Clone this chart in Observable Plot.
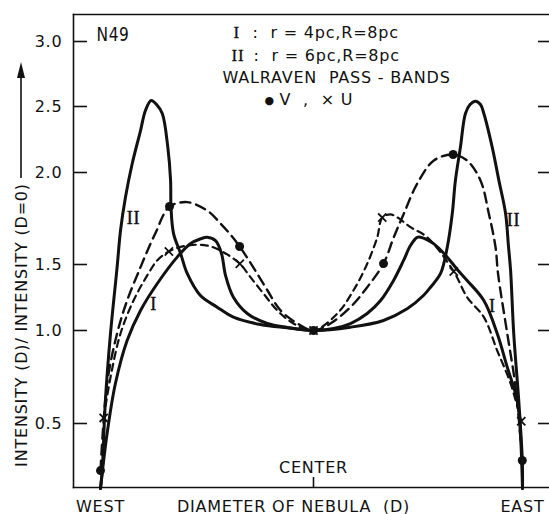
<!DOCTYPE html>
<html><head><meta charset="utf-8">
<script src="https://cdn.jsdelivr.net/npm/d3@7"></script>
<script src="https://cdn.jsdelivr.net/npm/@observablehq/plot@0.6"></script>
<style>
html,body{margin:0;padding:0;background:#fff;}
#chart svg{display:block;}
</style></head><body><div id="chart"></div>
<script>
// ---- data: [D (west=-1, centre=0, east=+1), intensity ratio] ----
const curveII = [[-1.0,0.15],[-0.992,0.247],[-0.977,0.624],[-0.953,0.984],[-0.922,1.48],[-0.906,1.685],[-0.883,1.864],[-0.851,2.068],[-0.812,2.318],[-0.789,2.47],[-0.762,2.546],[-0.737,2.515],[-0.710,2.447],[-0.684,2.192],[-0.671,1.957],[-0.669,1.81],[-0.657,1.668],[-0.624,1.56],[-0.593,1.432],[-0.531,1.265],[-0.452,1.177],[-0.376,1.101],[-0.249,1.045],[-0.123,1.02],[0,1.0],[0.177,1.025],[0.335,1.076],[0.448,1.164],[0.526,1.265],[0.560,1.328],[0.608,1.432],[0.640,1.594],[0.664,1.777],[0.679,1.957],[0.703,2.192],[0.727,2.447],[0.749,2.515],[0.775,2.541],[0.799,2.515],[0.815,2.447],[0.855,2.192],[0.887,1.957],[0.919,1.777],[0.933,1.598],[0.943,1.455],[0.958,0.984],[0.982,0.624],[0.999,0.301],[1.0,0.15]];
const curveI = [[-1.0,0.15],[-0.969,0.446],[-0.930,0.715],[-0.875,0.946],[-0.812,1.152],[-0.734,1.354],[-0.640,1.54],[-0.577,1.614],[-0.531,1.639],[-0.499,1.648],[-0.460,1.63],[-0.432,1.56],[-0.413,1.417],[-0.376,1.252],[-0.311,1.129],[-0.217,1.053],[-0.123,1.023],[0,1.0],[0.096,1.015],[0.177,1.053],[0.257,1.129],[0.321,1.227],[0.383,1.379],[0.431,1.522],[0.464,1.603],[0.496,1.647],[0.512,1.648],[0.576,1.612],[0.640,1.54],[0.688,1.462],[0.735,1.379],[0.815,1.227],[0.879,0.984],[0.927,0.803],[0.975,0.624],[0.990,0.446],[1.0,0.15]];
const bandV = [[-1.0,0.247],[-0.969,0.715],[-0.922,0.984],[-0.875,1.227],[-0.812,1.48],[-0.765,1.614],[-0.732,1.696],[-0.710,1.757],[-0.676,1.815],[-0.593,1.839],[-0.493,1.788],[-0.437,1.723],[-0.390,1.663],[-0.347,1.598],[-0.282,1.477],[-0.216,1.303],[-0.155,1.152],[-0.075,1.053],[0,1.0],[0.081,1.053],[0.177,1.177],[0.257,1.328],[0.335,1.505],[0.384,1.648],[0.432,1.776],[0.496,1.939],[0.576,2.091],[0.668,2.136],[0.735,2.091],[0.799,1.957],[0.839,1.776],[0.871,1.594],[0.883,1.43],[0.927,0.984],[0.967,0.695],[0.999,0.301]];
const bandU = [[-0.985,0.53],[-0.953,0.749],[-0.906,0.984],[-0.845,1.227],[-0.775,1.432],[-0.734,1.522],[-0.679,1.571],[-0.593,1.603],[-0.499,1.603],[-0.423,1.567],[-0.346,1.504],[-0.296,1.404],[-0.235,1.28],[-0.170,1.152],[-0.094,1.053],[0,1.0],[0.113,1.127],[0.191,1.303],[0.257,1.504],[0.305,1.648],[0.329,1.755],[0.368,1.772],[0.400,1.757],[0.464,1.703],[0.544,1.648],[0.671,1.447],[0.735,1.252],[0.815,1.101],[0.879,0.892],[0.943,0.715],[0.994,0.512]];
const dotsV = [[-1.0,0.247],[-0.676,1.815],[-0.347,1.598],[0,1.0],[0.335,1.505],[0.668,2.136],[0.999,0.301]];
const crossesU = [[-0.985,0.53],[-0.679,1.571],[-0.346,1.504],[0,1.0],[0.329,1.755],[0.671,1.447],[0.994,0.512]];
const curveLabels = [["II",-0.845,1.75],["I",-0.751,1.197],["II",0.957,1.739],["I",0.856,1.182]];
const yTicks = [0.5,1.0,1.5,2.0,2.5,3.0];
const xLabels = [["WEST",-1],["EAST",1]];
const legendModels = ["I","II"];
const legendParams = [":  r = 4pc,R=8pc",":  r = 6pc,R=8pc"];
const legendBands = ["WALRAVEN  PASS - BANDS","V  ,  \u00D7 U"];

// the printed axes are not evenly spaced: piecewise maps from value to distance on the page
const yWarp = d3.scaleLinear().domain([0.5, 1, 1.5, 2, 2.5, 3]).range([0, 93, 159, 251, 317, 382]);
const xWarp = d3.scaleLinear().domain([-1, 0, 1]).range([-213, 0, 209]);

const rows = a => a.map(([d, v]) => ({d, v}));
const sans = "'DejaVu Sans', sans-serif";
const serif = "'Liberation Serif', 'DejaVu Serif', serif";
const W = 549, H = 514, mL = 73, mT = 14, mB = 27;
const ann = (str, px, py, o = {}) => Plot.text([str], {text: d => d, frameAnchor: "top-left", dx: px - mL, dy: py - mT, lineAnchor: "bottom", textAnchor: "start", fontSize: 16, fill: "#111", ...o});

const chart = Plot.plot({
  width: W, height: H,
  marginLeft: mL, marginTop: mT, marginBottom: mB, marginRight: 0,
  x: {transform: xWarp, domain: [-240, 236], axis: null},
  y: {transform: yWarp, domain: [-64, 409], axis: null},
  style: {fontFamily: sans, background: "#fff", color: "#111", letterSpacing: "0.8px"},
  marks: [
    Plot.frame({anchor: "left", strokeWidth: 1.6}),
    Plot.frame({anchor: "top", strokeWidth: 1.6}),
    Plot.frame({anchor: "bottom", strokeWidth: 1.6}),
    Plot.tickY(yTicks, {y: d => d, insetRight: W - mL - 14, strokeWidth: 1.6}),
    Plot.tickY(yTicks, {y: d => d, insetLeft: W - mL - 11, strokeWidth: 1.6}),
    Plot.text(yTicks, {y: d => d, text: d => d.toFixed(1), frameAnchor: "left", dx: -11, textAnchor: "end", fontSize: 16, fill: "#111"}),
    Plot.tickX([0], {x: d => d, insetTop: H - mB - mT - 10, strokeWidth: 1.6}),
    Plot.text(["CENTER"], {x: () => 0, text: d => d, frameAnchor: "bottom", dy: -15, lineAnchor: "bottom", fontSize: 16, fill: "#111"}),
    Plot.text(xLabels, {x: d => d[1], text: d => d[0], frameAnchor: "bottom", dy: 24, lineAnchor: "bottom", fontSize: 16, fill: "#111"}),
    Plot.text(["DIAMETER OF NEBULA  (D)"], {text: d => d, frameAnchor: "bottom", dx: -18, dy: 24, lineAnchor: "bottom", fontSize: 16, fill: "#111", letterSpacing: "1.8px"}),
    Plot.line(rows(curveII), {x: "d", y: "v", curve: "catmull-rom", strokeWidth: 3, stroke: "#111"}),
    Plot.line(rows(curveI), {x: "d", y: "v", curve: "catmull-rom", strokeWidth: 3, stroke: "#111"}),
    Plot.line(rows(bandV), {x: "d", y: "v", curve: "catmull-rom", strokeWidth: 2.4, stroke: "#111", strokeDasharray: "10,6"}),
    Plot.line(rows(bandU), {x: "d", y: "v", curve: "catmull-rom", strokeWidth: 2.2, stroke: "#111", strokeDasharray: "7,5"}),
    Plot.dot(rows(dotsV), {x: "d", y: "v", r: 4.5, fill: "#111", stroke: null}),
    Plot.dot(rows(crossesU), {x: "d", y: "v", symbol: "times", r: 3.8, stroke: "#111", strokeWidth: 1.8}),
    Plot.text(curveLabels, {x: d => d[1], y: d => d[2], text: d => d[0], fontFamily: serif, fontSize: 18, fill: "#111", stroke: "#111", strokeWidth: 0.4}),
    ann("N49", 96, 40, {fontSize: 20, className: "n49"}),
    ann(legendModels[0], 233, 37, {fontFamily: serif, fontSize: 17, stroke: "#111", strokeWidth: 0.3}),
    ann(legendParams[0], 252, 37),
    ann(legendModels[1], 231, 60, {fontFamily: serif, fontSize: 17, stroke: "#111", strokeWidth: 0.3}),
    ann(legendParams[1], 253, 60),
    ann(legendBands[0], 222, 82),
    ann("\u25CF", 264, 103, {fontSize: 11}),
    ann(legendBands[1], 279, 104)
  ]
});
const svg = d3.select(chart);
svg.selectAll(".n49 text").attr("textLength", 33).attr("lengthAdjust", "spacingAndGlyphs");
// rotated y-axis title with its upward arrow
svg.append("text").attr("transform", "translate(21,325) rotate(-90)").attr("text-anchor", "middle").attr("dy", "0.36em")
  .attr("font-size", 16).attr("fill", "#111").text("INTENSITY (D)/ INTENSITY (D=0)");
svg.append("line").attr("x1", 21).attr("x2", 21).attr("y1", 178).attr("y2", 74).attr("stroke", "#111").attr("stroke-width", 1.6);
svg.append("path").attr("d", "M21,62 L17,78 L25,78 Z").attr("fill", "#111");
document.getElementById("chart").appendChild(chart);
</script></body></html>
